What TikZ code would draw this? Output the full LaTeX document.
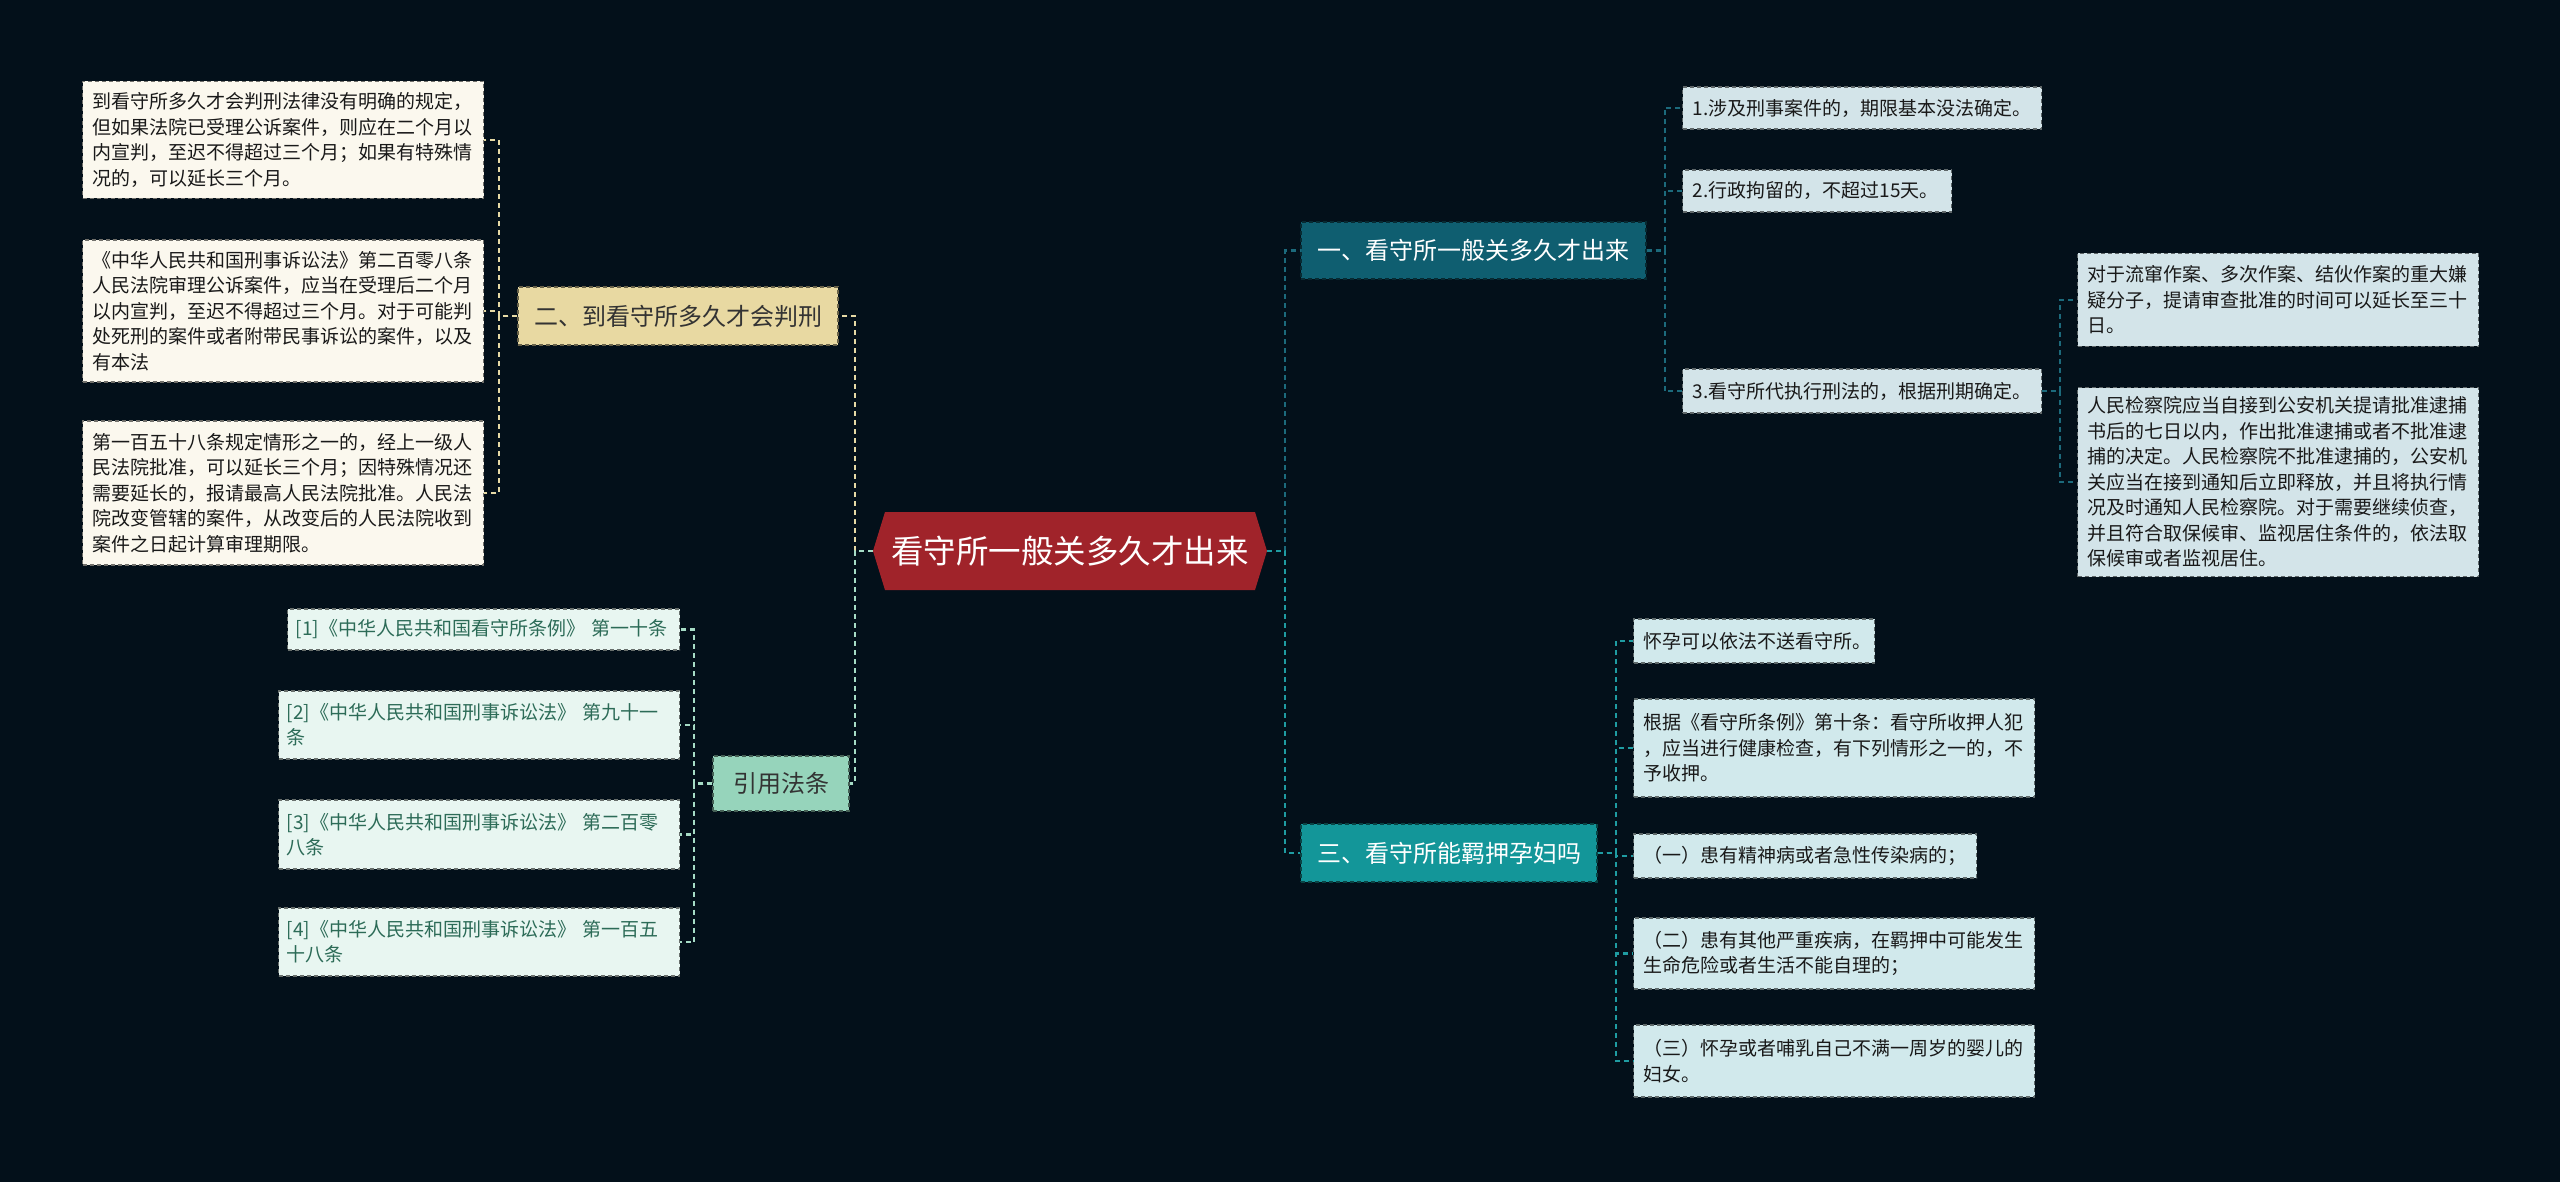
\documentclass[tikz,border=0pt]{standalone}
\usepackage{fontspec}
\setmainfont{Noto Sans CJK SC}
\definecolor{bgcol}{HTML}{03101A}
\definecolor{rootred}{HTML}{A0232A}
\definecolor{tealdark}{HTML}{0F5E70}
\definecolor{tealmid}{HTML}{139699}
\definecolor{sand}{HTML}{E8D9A2}
\definecolor{mint}{HTML}{96D4BB}
\definecolor{creamleaf}{HTML}{FBF8EE}
\definecolor{mintleaf}{HTML}{E8F6F1}
\definecolor{blueleaf}{HTML}{D3E4E9}
\definecolor{cyanleaf}{HTML}{D1E9EC}
\definecolor{reftext}{HTML}{2C6B57}
\definecolor{linedark}{HTML}{1C6A7C}
\definecolor{linemid}{HTML}{1F9CA2}
\definecolor{linesand}{HTML}{E6DAA6}
\definecolor{linemint}{HTML}{A6DCC6}
\tikzset{
  box/.style={draw=#1!45!black, dash pattern=on 4pt off 3pt, line width=1.3pt, fill=#1},
  branch/.style={box=#1, font=\fontsize{24}{28}\selectfont, inner sep=0pt},
  leaf/.style={box=#1, anchor=west, align=left, inner xsep=10pt, inner ysep=3pt, font=\fontsize{19}{25.5}\selectfont, text=black!90},
  link/.style={draw=#1, line width=2.2pt, dash pattern=on 5pt off 4pt},
}
\begin{document}
\begin{tikzpicture}[x=1pt, y=-1pt]
\useasboundingbox (0,0) rectangle (2560,1182);
\fill[bgcol] (0,0) rectangle (2560,1182);
\fill[rootred] (873,551) -- (885,512) -- (1255,512) -- (1267,551) -- (1255,590) -- (885,590) -- cycle;
\node[text=white, font=\fontsize{32.5}{36}\selectfont, minimum width=394pt, minimum height=78pt, inner sep=0pt] (root) at (1070,551) {看守所一般关多久才出来};
\node[branch=tealdark, text=white, minimum width=345pt, minimum height=57pt] (b1) at (1473.5,250.5) {一、看守所一般关多久才出来};
\node[branch=sand, text=black!80, minimum width=320pt, minimum height=58pt] (b2) at (678,316) {二、到看守所多久才会判刑};
\node[branch=tealmid, text=white, minimum width=296pt, minimum height=58pt] (b3) at (1449,853) {三、看守所能羁押孕妇吗};
\node[branch=mint, text=black!80, minimum width=136pt, minimum height=55pt] (cite) at (781,783.5) {引用法条};
\foreach \nm/\x/\y/\tw/\h/\txt in {
  la/82/140/381/117/{到看守所多久才会判刑法律没有明确的规定，\\但如果法院已受理公诉案件，则应在二个月以\\内宣判，至迟不得超过三个月；如果有特殊情\\况的，可以延长三个月。},
  lb/82/311/381/142/{《中华人民共和国刑事诉讼法》第二百零八条\\人民法院审理公诉案件，应当在受理后二个月\\以内宣判，至迟不得超过三个月。对于可能判\\处死刑的案件或者附带民事诉讼的案件，以及\\有本法},
  lc/82/493/381/144/{第一百五十八条规定情形之一的，经上一级人\\民法院批准，可以延长三个月；因特殊情况还\\需要延长的，报请最高人民法院批准。人民法\\院改变管辖的案件，从改变后的人民法院收到\\案件之日起计算审理期限。}}
  \node[leaf=creamleaf, text width=\tw pt, minimum height=\h pt] (\nm) at (\x,\y) {\txt};
\foreach \nm/\x/\y/\tw/\h/\txt in {
  ra/287/629.5/376/41/{[1]《中华人民共和国看守所条例》 第一十条},
  rb/278/725/385/68/{[2]《中华人民共和国刑事诉讼法》 第九十一\\条},
  rc/278/834.5/385/69/{[3]《中华人民共和国刑事诉讼法》 第二百零\\八条},
  rd/278/942/385/68/{[4]《中华人民共和国刑事诉讼法》 第一百五\\十八条}}
  \node[leaf=mintleaf, inner xsep=8pt, text=reftext, font=\fontsize{19}{25}\selectfont, text width=\tw pt, minimum height=\h pt] (\nm) at (\x,\y) {\txt};
\foreach \nm/\x/\y/\tw/\h/\txt in {
  a1/1682/108/339/42/{1.涉及刑事案件的，期限基本没法确定。},
  a2/1682/191/249/42/{2.行政拘留的，不超过15天。},
  a3/1682/391/339/44/{3.看守所代执行刑法的，根据刑期确定。},
  d1/2077/300/381/93/{对于流窜作案、多次作案、结伙作案的重大嫌\\疑分子，提请审查批准的时间可以延长至三十\\日。},
  d2/2077/482/381/189/{人民检察院应当自接到公安机关提请批准逮捕\\书后的七日以内，作出批准逮捕或者不批准逮\\捕的决定。人民检察院不批准逮捕的，公安机\\关应当在接到通知后立即释放，并且将执行情\\况及时通知人民检察院。对于需要继续侦查，\\并且符合取保候审、监视居住条件的，依法取\\保候审或者监视居住。}}
  \node[leaf=blueleaf, text width=\tw pt, minimum height=\h pt] (\nm) at (\x,\y) {\txt};
\foreach \nm/\x/\y/\tw/\h/\txt in {
  c1/1633/641/221/44/{怀孕可以依法不送看守所。},
  c2/1633/748/381/98/{根据《看守所条例》第十条：看守所收押人犯\\，应当进行健康检查，有下列情形之一的，不\\予收押。},
  c3/1633/856/323/44/{（一）患有精神病或者急性传染病的；},
  c4/1633/953.5/381/71/{（二）患有其他严重疾病，在羁押中可能发生\\生命危险或者生活不能自理的；},
  c5/1633/1061/381/72/{（三）怀孕或者哺乳自己不满一周岁的婴儿的\\妇女。}}
  \node[leaf=cyanleaf, text width=\tw pt, minimum height=\h pt] (\nm) at (\x,\y) {\txt};
\foreach \p/\c/\col in {root/b1/linedark, b1/a1/linedark, b1/a2/linedark, b1/a3/linedark, a3/d1/linedark, a3/d2/linedark, root/b3/linemid, b3/c1/linemid, b3/c2/linemid, b3/c3/linemid, b3/c4/linemid, b3/c5/linemid}
  \draw[link=\col] (\p.east) -- ++(18,0) |- (\c.west);
\foreach \p/\c/\col in {root/b2/linesand, b2/la/linesand, b2/lb/linesand, b2/lc/linesand, root/cite/linemint, cite/ra/linemint, cite/rb/linemint, cite/rc/linemint, cite/rd/linemint}
  \draw[link=\col] (\p.west) -- ++(-18,0) |- (\c.east);
\end{tikzpicture}
\end{document}
